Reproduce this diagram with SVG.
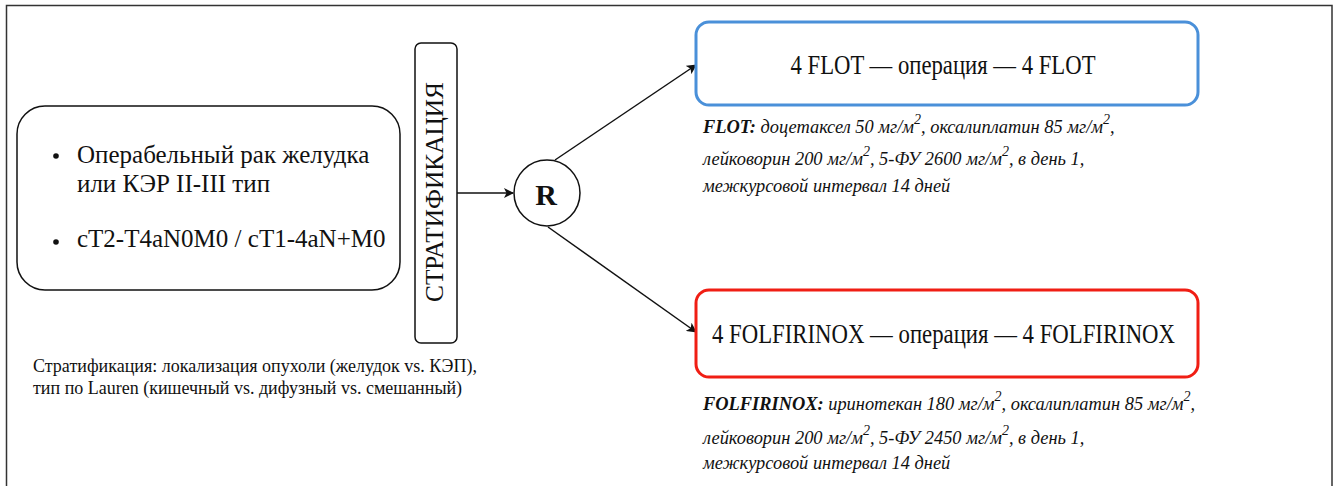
<svg xmlns="http://www.w3.org/2000/svg" width="1339" height="486" viewBox="0 0 1339 486">
<style>
text{font-family:"Liberation Serif","Times New Roman",serif;fill:#111}
.box{fill:#fff;stroke:#111;stroke-width:1.5}
.main{font-size:25px}
.arm{font-size:28px;text-anchor:middle}
.reg{font-size:18.4px;font-style:italic}
.sup{font-size:14px}
.note{font-size:18px}
.conn{stroke:#111;stroke-width:1.5;fill:none;marker-end:url(#ah)}
</style>
<defs>
<marker id="ah" viewBox="0 0 10 10" refX="9" refY="5" markerWidth="10" markerHeight="10" markerUnits="userSpaceOnUse" orient="auto">
<path d="M0,0 L10,5 L0,10 L2.5,5 Z" fill="#111"/>
</marker>
</defs>
<rect x="6.5" y="5.5" width="1325.5" height="500" fill="#fff" stroke="#333" stroke-width="1.5"/>
<g id="connectors">
<line class="conn" x1="457" y1="193" x2="513" y2="193"/>
<line class="conn" x1="555" y1="160" x2="696" y2="65"/>
<line class="conn" x1="548" y1="227" x2="696" y2="332"/>
</g>
<g id="inclusion">
<rect class="box" x="17" y="106" width="383" height="184" rx="28"/>
<circle cx="56" cy="156" r="2.8" fill="#111"/>
<text class="main" x="77" y="163">Операбельный рак желудка</text>
<text class="main" x="77" y="192">или КЭР II-III тип</text>
<circle cx="56" cy="242" r="2.8" fill="#111"/>
<text class="main" x="77" y="247">cT2-T4aN0M0 / cT1-4aN+M0</text>
</g>
<g id="stratification">
<rect class="box" x="415" y="43" width="42" height="300" rx="6"/>
<text class="main" transform="translate(443,192) rotate(-90)" text-anchor="middle" textLength="220" lengthAdjust="spacingAndGlyphs">СТРАТИФИКАЦИЯ</text>
</g>
<g id="randomization">
<circle cx="547" cy="193" r="33" fill="#fff" stroke="#111" stroke-width="1.5"/>
<text x="546" y="205" font-size="30" font-weight="bold" text-anchor="middle">R</text>
</g>
<g id="flot">
<rect x="696" y="22" width="502" height="83" rx="13" fill="#fff" stroke="#4a90d9" stroke-width="3"/>
<text class="arm" x="943" y="74" textLength="305" lengthAdjust="spacingAndGlyphs">4 FLOT — операция — 4 FLOT</text>
<text class="reg" x="703" y="133"><tspan font-weight="bold">FLOT:</tspan> доцетаксел 50 мг/м<tspan class="sup" dy="-9">2</tspan><tspan dy="9">, оксалиплатин 85 мг/м</tspan><tspan class="sup" dy="-9">2</tspan><tspan dy="9">,</tspan></text>
<text class="reg" x="703" y="165">лейковорин 200 мг/м<tspan class="sup" dy="-9">2</tspan><tspan dy="9">, 5-ФУ 2600 мг/м</tspan><tspan class="sup" dy="-9">2</tspan><tspan dy="9">, в день 1,</tspan></text>
<text class="reg" x="703" y="192">межкурсовой интервал 14 дней</text>
</g>
<g id="folfirinox">
<rect x="696" y="290" width="502" height="87" rx="13" fill="#fff" stroke="#f01e14" stroke-width="3"/>
<text class="arm" x="943.5" y="343" textLength="463" lengthAdjust="spacingAndGlyphs">4 FOLFIRINOX — операция — 4 FOLFIRINOX</text>
<text class="reg" x="703" y="410"><tspan font-weight="bold">FOLFIRINOX:</tspan> иринотекан 180 мг/м<tspan class="sup" dy="-9">2</tspan><tspan dy="9">, оксалиплатин 85 мг/м</tspan><tspan class="sup" dy="-9">2</tspan><tspan dy="9">,</tspan></text>
<text class="reg" x="703" y="444">лейковорин 200 мг/м<tspan class="sup" dy="-9">2</tspan><tspan dy="9">, 5-ФУ 2450 мг/м</tspan><tspan class="sup" dy="-9">2</tspan><tspan dy="9">, в день 1,</tspan></text>
<text class="reg" x="703" y="469">межкурсовой интервал 14 дней</text>
</g>
<g id="note">
<text class="note" x="33" y="372">Стратификация: локализация опухоли (желудок vs. КЭП),</text>
<text class="note" x="33" y="394">тип по Lauren (кишечный vs. дифузный vs. смешанный)</text>
</g>
</svg>
